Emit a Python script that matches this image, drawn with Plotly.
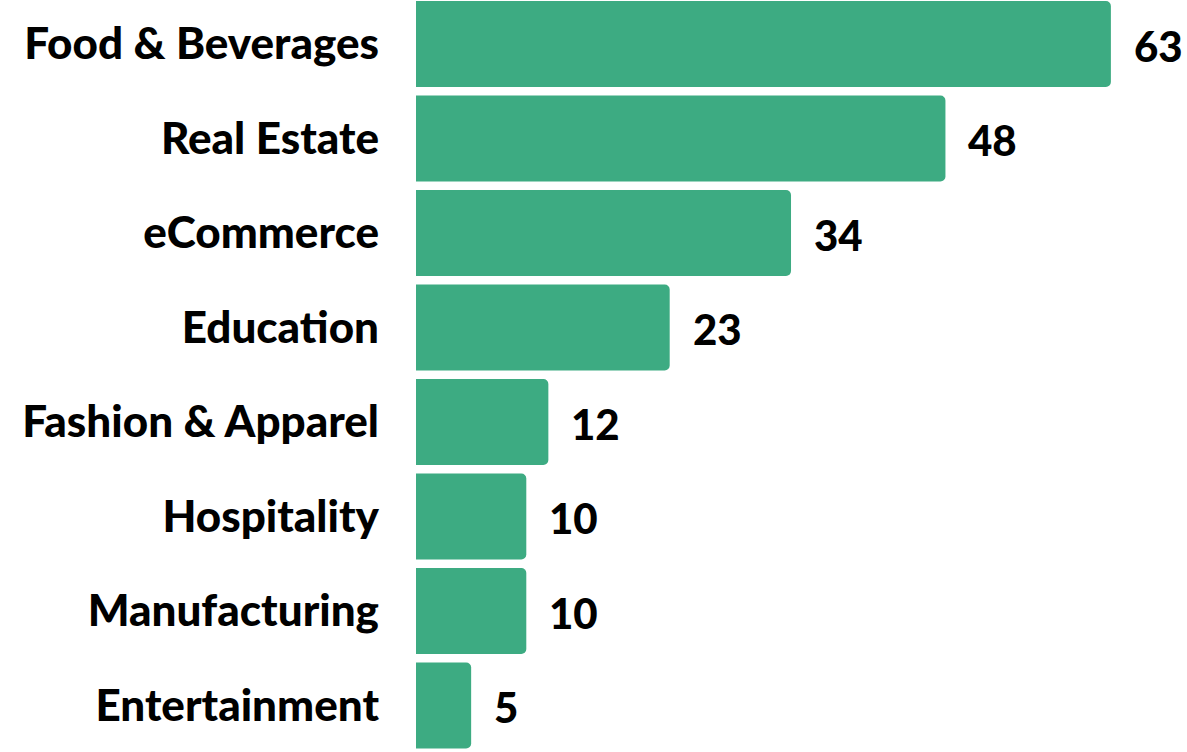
import plotly.graph_objects as go

categories = ["Food & Beverages", "Real Estate", "eCommerce", "Education",
              "Fashion & Apparel", "Hospitality", "Manufacturing", "Entertainment"]
values = [63, 48, 34, 23, 12, 10, 10, 5]

bar_color = "#3dab82"
font_family = "Lato, 'Open Sans', sans-serif"

fig = go.Figure()
fig.add_trace(go.Bar(
    x=values,
    y=list(range(len(categories))),
    orientation="h",
    width=0.91,
    marker=dict(color=bar_color, line=dict(width=0), cornerradius=5),
    hoverinfo="skip",
))

for i, v in enumerate(values):
    fig.add_annotation(
        x=v, y=i, text=str(v), showarrow=False,
        xanchor="left", yanchor="middle", xshift=21, yshift=-2,
        font=dict(family=font_family, size=42, color="#000000", weight=900),
    )

fig.update_layout(
    width=1187, height=752,
    margin=dict(l=416, r=0, t=0, b=0, autoexpand=False),
    paper_bgcolor="white", plot_bgcolor="white",
    showlegend=False,
    xaxis=dict(range=[0, 69.9], visible=False, fixedrange=True),
    yaxis=dict(
        range=[7.4925, -0.4656],
        tickmode="array",
        tickvals=list(range(len(categories))),
        ticktext=categories,
        tickfont=dict(family=font_family, size=44, color="#000000", weight=900),
        showgrid=False, zeroline=False, showline=False,
        ticks="", ticklabelstandoff=36, automargin=False,
    ),
)

fig.write_html("out.html", config={"displayModeBar": False},
               post_script="document.body.style.margin='0';document.body.style.padding='0';")
